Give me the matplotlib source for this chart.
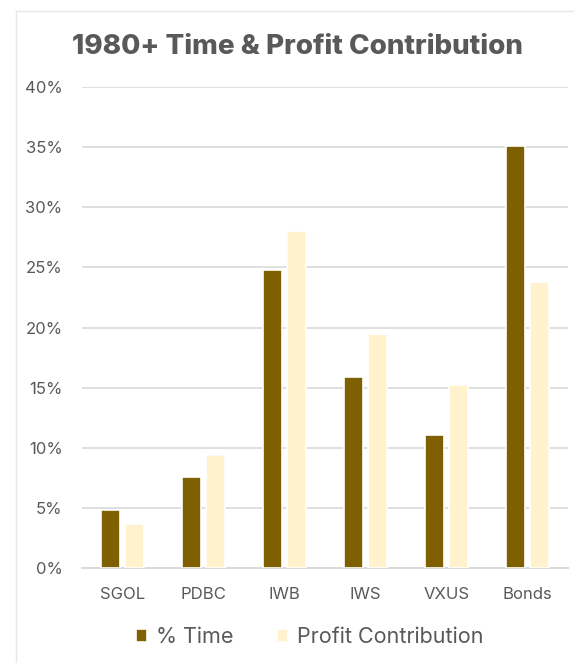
import numpy as np
import matplotlib.pyplot as plt
from matplotlib.patches import Rectangle

categories = ['SGOL', 'PDBC', 'IWB', 'IWS', 'VXUS', 'Bonds']
pct_time = [4.8, 7.6, 24.8, 15.9, 11.1, 35.1]
profit_contrib = [3.7, 9.4, 28.0, 19.5, 15.2, 23.8]
yticks = [0, 5, 10, 15, 20, 25, 30, 35, 40]

dark = '#7F6000'
light = '#FFF2CC'
txt = '#595959'

plt.rcParams['font.family'] = ['Inter', 'DejaVu Sans']

fig = plt.figure(figsize=(5.74, 6.63), dpi=100, facecolor='w')
# light frame round the chart, open at right and bottom edges
fig.patches.append(Rectangle((16 / 574, -0.05), 1.0, 1.05 - 11 / 663,
                             transform=fig.transFigure, fill=False,
                             edgecolor='#E6E6E6', linewidth=1))

ax = fig.add_axes([82 / 574, 95 / 663, 486 / 574, 481 / 663])

x = np.arange(len(categories))
w = 0.24
gap = 0.05
ax.bar(x - (w + gap) / 2, pct_time, w, color=dark, edgecolor='white',
       linewidth=1.2, zorder=3, label='% Time')
ax.bar(x + (w + gap) / 2, profit_contrib, w, color=light, edgecolor='white',
       linewidth=1.2, zorder=3, label='Profit Contribution')

ax.set_xlim(-0.5, len(categories) - 0.5)
ax.set_ylim(0, 40)
ax.set_yticks(yticks)
ax.set_yticklabels([f'{t}%' for t in yticks])
ax.set_xticks(x)
ax.set_xticklabels(categories)
ax.yaxis.grid(True, color='#D9D9D9', linewidth=1.2, zorder=0)
ax.set_axisbelow(True)
for s in ['top', 'right', 'left']:
    ax.spines[s].set_visible(False)
ax.spines['bottom'].set_color('#D9D9D9')
ax.spines['bottom'].set_linewidth(1.4)
ax.tick_params(axis='both', length=0, labelsize=12, colors=txt)
ax.tick_params(axis='x', pad=14)
ax.tick_params(axis='y', pad=14)

fig.text(0.519, 0.929, '1980+ Time & Profit Contribution', ha='center',
         va='center', fontsize=20, fontweight='heavy', color=txt)

leg = fig.legend(loc='center', bbox_to_anchor=(0.54, 0.039), ncol=2,
                 frameon=False, fontsize=15.5, handlelength=0.5,
                 handleheight=0.5, handletextpad=0.45, columnspacing=2.0)
for t in leg.get_texts():
    t.set_color(txt)

plt.savefig('out.png', dpi=100)
